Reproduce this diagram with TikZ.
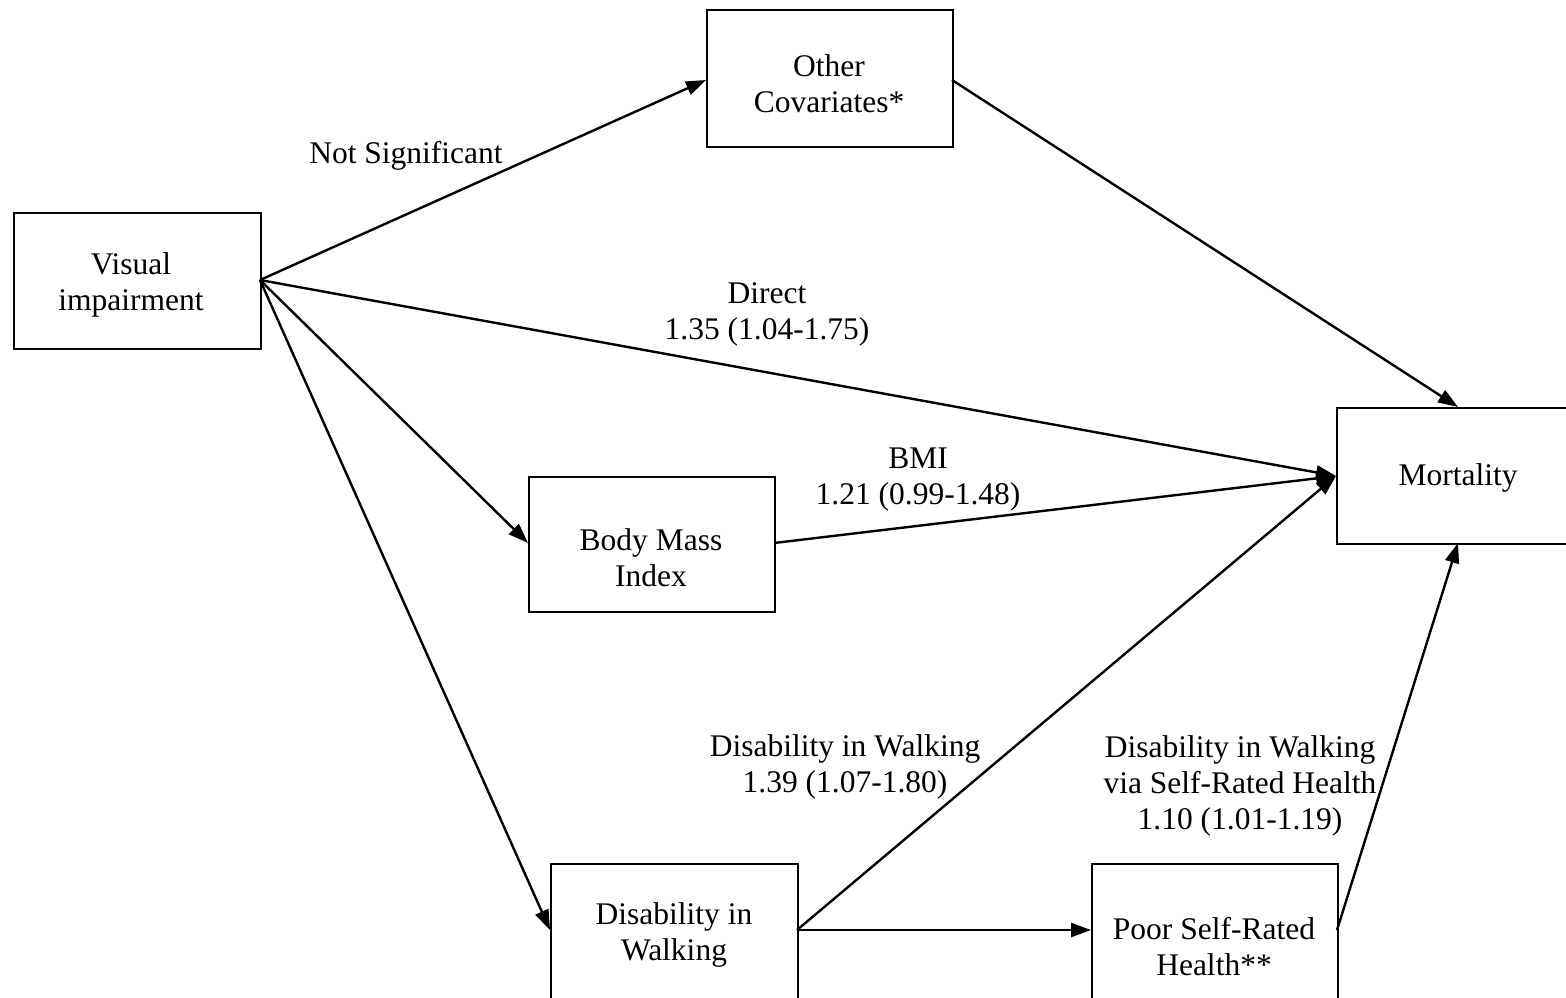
\documentclass[tikz,border=0pt]{standalone}
\usepackage{fontspec}
\setmainfont{Liberation Serif}
\usetikzlibrary{arrows.meta}
\begin{document}
\begin{tikzpicture}[x=1pt,y=-1pt,
  box/.style={draw,line width=2.2pt,rectangle,inner sep=0pt,anchor=north west},
  txt/.style={align=center,inner sep=0pt,font=\fontsize{31.5}{36}\selectfont},
  arr/.style={line width=2.4pt,-{Triangle[length=20pt,width=14pt]}}]
\useasboundingbox (0,0) rectangle (1566,997);
% boxes (north-west corner, width x height)
\node[box,minimum width=247pt,minimum height=136pt] (vi)  at (13,212) {};
\node[box,minimum width=246pt,minimum height=137pt] (oc)  at (706,9) {};
\node[box,minimum width=234pt,minimum height=136pt] (mo)  at (1336,407) {};
\node[box,minimum width=246pt,minimum height=135pt] (bmi) at (528,476) {};
\node[box,minimum width=247pt,minimum height=160pt] (dw)  at (550,863) {};
\node[box,minimum width=246pt,minimum height=160pt] (ps)  at (1091,863) {};
% box texts
\node[txt] (vi-t)  at (131,285) {Visual\\impairment};
\node[txt] (oc-t)  at (829,84)  {Other\\Covariates*};
\node[txt] (mo-t)  at (1458,478) {Mortality};
\node[txt] (bmi-t) at (651,558) {Body Mass\\Index};
\node[txt] (dw-t)  at (674,935) {Disability in\\Walking};
\node[txt] (ps-t)  at (1214,947) {Poor Self-Rated\\Health**};
% connection points
\coordinate (vi-e) at (260,280);
\coordinate (mo-w) at (1336,476);
\coordinate (dw-e) at (797,930);
% connectors
\draw[arr] (vi-e) -- (706,80);
\draw[arr] (952,80) -- (1458,407);
\draw[arr] (vi-e) -- (mo-w);
\draw[arr] (vi-e) -- (528,543);
\draw[arr] (vi-e) -- (550,930);
\draw[arr] (774,543) -- (mo-w);
\draw[arr] (dw-e) -- (mo-w);
\draw[arr] (dw-e) -- (1091,930);
\draw[arr] (1337,930) -- (1458,543);
% path labels
\node[txt] (l-ns)  at (406,156) {Not Significant};
\node[txt] (l-dir) at (767,314) {Direct\\1.35 (1.04-1.75)};
\node[txt] (l-bmi) at (918,480) {BMI\\1.21 (0.99-1.48)};
\node[txt] (l-dw)  at (845,767) {Disability in Walking\\1.39 (1.07-1.80)};
\node[txt] (l-via) at (1240,786) {Disability in Walking\\via Self-Rated Health\\1.10 (1.01-1.19)};
\end{tikzpicture}
\end{document}
